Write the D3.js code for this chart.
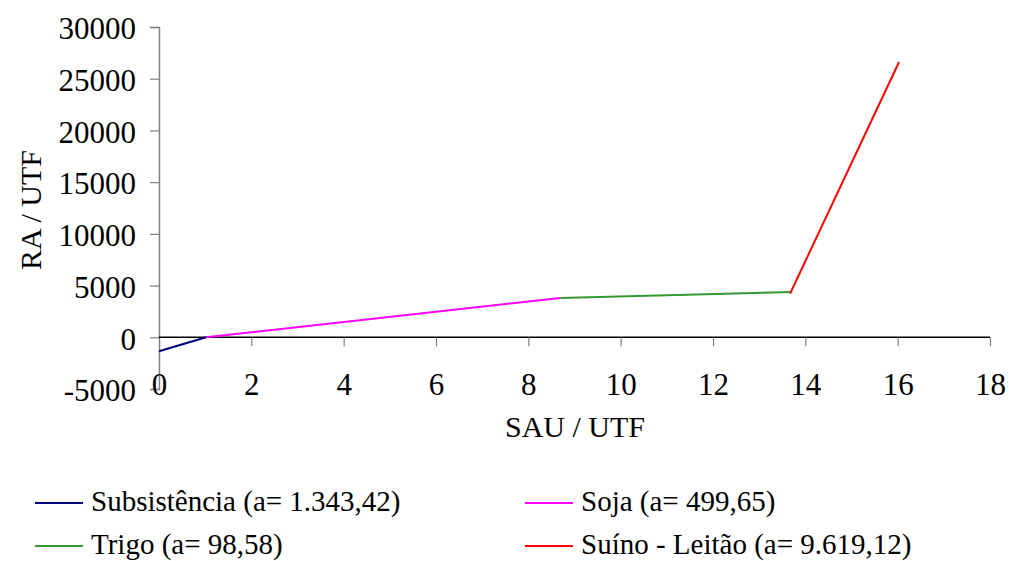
<!DOCTYPE html>
<html><head><meta charset="utf-8">
<script src="https://cdn.jsdelivr.net/npm/d3@7"></script>
<style>body{margin:0;background:#fff}svg{display:block}svg text{font-family:"Liberation Serif","Times New Roman",serif !important;fill:#000}</style>
</head><body>
<svg id="c" width="1009" height="561"></svg>
<script>
const seriesNames = ["Subsistência (a= 1.343,42)", "Soja (a= 499,65)", "Trigo (a= 98,58)", "Suíno - Leitão (a= 9.619,12)"];
const seriesColors = ["#000080", "#ff00ff", "#339933", "#ff0000"];
const subsistencia = [[0, -1343], [1.02, 0]];
const soja = [[1.02, 0], [8.69, 3800]];
const trigo = [[8.69, 3800], [13.67, 4380]];
const suino = [[13.67, 4220], [16.03, 26620]];
const xTicks = [0, 2, 4, 6, 8, 10, 12, 14, 16, 18];
const yTicks = [-5000, 0, 5000, 10000, 15000, 20000, 25000, 30000];
const allSeries = [subsistencia, soja, trigo, suino];

const svg = d3.select("#c");
const x = d3.scaleLinear().domain([0, 18]).range([159, 990]);
const y = d3.scaleLinear().domain([-5000, 30000]).range([389, 27]);
const fmt = d => String(d);

// y axis
const yAxis = d3.axisLeft(y).tickValues(yTicks).tickSize(9).tickPadding(14).tickFormat(fmt);
const gy = svg.append("g").attr("transform", `translate(${x(0)},0)`).call(yAxis);
gy.attr("font-family", null);
gy.select(".domain").attr("stroke", "#808080").attr("stroke-width", 1.5);
gy.selectAll(".tick line").attr("stroke", "#808080").attr("stroke-width", 1.2);
gy.selectAll(".tick text").style("font-size", "31px").attr("dy", "0.38em");

// x axis at y=0
const xAxis = d3.axisBottom(x).tickValues(xTicks).tickSize(9).tickPadding(27).tickFormat(fmt);
const gx = svg.append("g").attr("transform", `translate(0,${y(0)})`).call(xAxis);
gx.attr("font-family", null);
gx.select(".domain").attr("stroke", "#000").attr("stroke-width", 1.5).attr("d", `M${x(0)},0H${x(18)}`);
gx.selectAll(".tick line").attr("stroke", "#808080").attr("stroke-width", 1.2);
gx.selectAll(".tick text").style("font-size", "31px");
gx.select(".tick line").remove();

// axis titles
svg.append("text").attr("transform", `translate(41,${y(12300)}) rotate(-90)`).attr("text-anchor", "middle")
  .style("font-size", "30px").text("RA / UTF");
svg.append("text").attr("x", 575).attr("y", 437).attr("text-anchor", "middle")
  .style("font-size", "30px").text("SAU / UTF");

// lines
const line = d3.line().x(d => x(d[0])).y(d => y(d[1]));
allSeries.forEach((s, i) => {
  svg.append("path").datum(s).attr("d", line).attr("fill", "none")
    .attr("stroke", seriesColors[i]).attr("stroke-width", 2);
});

// legend
const legPos = [[35, 503], [525, 503], [35, 546], [525, 546]];
seriesNames.forEach((n, i) => {
  const [lx, ly] = legPos[i];
  svg.append("line").attr("x1", lx).attr("x2", lx + 48).attr("y1", ly).attr("y2", ly)
    .attr("stroke", seriesColors[i]).attr("stroke-width", 2);
  svg.append("text").attr("x", lx + 56).attr("y", ly + 8)
    .style("font-size", "29px").text(n);
});
</script>
</body></html>
